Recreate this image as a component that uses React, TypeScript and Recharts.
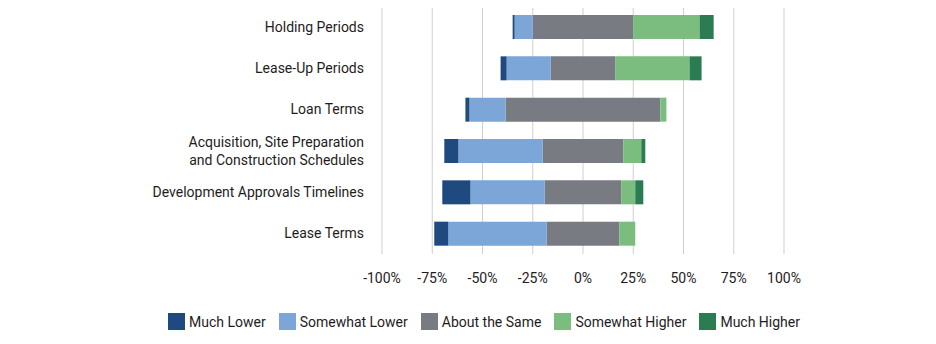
import React from "react"
import { BarChart, Bar, XAxis, YAxis, CartesianGrid } from "recharts"

const categories = [
  "Holding Periods",
  "Lease-Up Periods",
  "Loan Terms",
  "Acquisition, Site Preparation\nand Construction Schedules",
  "Development Approvals Timelines",
  "Lease Terms",
]

// percent of respondents
const muchLower = [1, 3, 2, 7, 14, 7]
const somewhatLower = [9, 22, 18, 42, 37, 49]
const aboutSame = [50, 32, 77, 40, 38, 36]
const somewhatHigher = [33, 37, 3, 9, 7, 8]
const muchHigher = [7, 6, 0, 2, 4, 0]

const xTicks = [-100, -75, -50, -25, 0, 25, 50, 75, 100]

const colors = {
  muchLower: "#1f4a7f",
  somewhatLower: "#7ca6d8",
  aboutSame: "#797b83",
  somewhatHigher: "#7bbd7e",
  muchHigher: "#2b7b53",
}

const legendItems = [
  { label: "Much Lower", color: colors.muchLower },
  { label: "Somewhat Lower", color: colors.somewhatLower },
  { label: "About the Same", color: colors.aboutSame },
  { label: "Somewhat Higher", color: colors.somewhatHigher },
  { label: "Much Higher", color: colors.muchHigher },
]

// "about the same" is split in half around zero, lower answers go negative
const data = categories.map((name, i) => ({
  name,
  aboutNeg: -aboutSame[i] / 2,
  somewhatLower: -somewhatLower[i],
  muchLower: -muchLower[i],
  aboutPos: aboutSame[i] / 2,
  somewhatHigher: somewhatHigher[i],
  muchHigher: muchHigher[i],
}))

const font = "Roboto, 'Noto Sans', sans-serif"
const textColor = "#1f1c1d"

function CategoryTick(props: any) {
  const { x, y, payload } = props
  const lines = String(payload.value).split("\n")
  const lh = 18
  return (
    <text x={x} y={y} textAnchor="end" fill={textColor} fontSize={14} fontFamily={font}>
      {lines.map((line, i) => (
        <tspan key={i} x={x} dy={i === 0 ? -((lines.length - 1) * lh) / 2 + 5 : lh}>
          {line}
        </tspan>
      ))}
    </text>
  )
}

export default function App() {
  return (
    <div style={{ position: "relative", width: 936, height: 344, margin: -8, background: "#fff" }}>
      <BarChart
        width={936}
        height={300}
        data={data}
        layout="vertical"
        stackOffset="sign"
        barSize={24}
        margin={{ top: 6, right: 152, left: 0, bottom: 0 }}
      >
        <CartesianGrid horizontal={false} stroke="#cfcfcf" />
        <XAxis
          type="number"
          domain={[-100, 100]}
          ticks={xTicks}
          tickFormatter={(v) => `${v}%`}
          axisLine={false}
          tickLine={false}
          tickSize={0}
          tickMargin={19}
          height={46}
          tick={{ fontSize: 14, fill: textColor, fontFamily: font }}
        />
        <YAxis
          type="category"
          dataKey="name"
          width={382}
          axisLine={false}
          tickLine={false}
          tickSize={0}
          tickMargin={18}
          interval={0}
          tick={<CategoryTick />}
        />
        <Bar dataKey="aboutNeg" stackId="a" fill={colors.aboutSame} isAnimationActive={false} />
        <Bar dataKey="somewhatLower" stackId="a" fill={colors.somewhatLower} isAnimationActive={false} />
        <Bar dataKey="muchLower" stackId="a" fill={colors.muchLower} isAnimationActive={false} />
        <Bar dataKey="aboutPos" stackId="a" fill={colors.aboutSame} isAnimationActive={false} />
        <Bar dataKey="somewhatHigher" stackId="a" fill={colors.somewhatHigher} isAnimationActive={false} />
        <Bar dataKey="muchHigher" stackId="a" fill={colors.muchHigher} isAnimationActive={false} />
      </BarChart>
      <div
        style={{
          position: "absolute",
          left: 168,
          top: 313,
          display: "flex",
          alignItems: "center",
          fontFamily: font,
          fontSize: 14,
          color: textColor,
          whiteSpace: "nowrap",
        }}
      >
        {legendItems.map((item) => (
          <div key={item.label} style={{ display: "flex", alignItems: "center", marginRight: 13 }}>
            <span style={{ width: 17, height: 17, background: item.color, marginRight: 4, display: "inline-block" }} />
            <span>{item.label}</span>
          </div>
        ))}
      </div>
    </div>
  )
}
